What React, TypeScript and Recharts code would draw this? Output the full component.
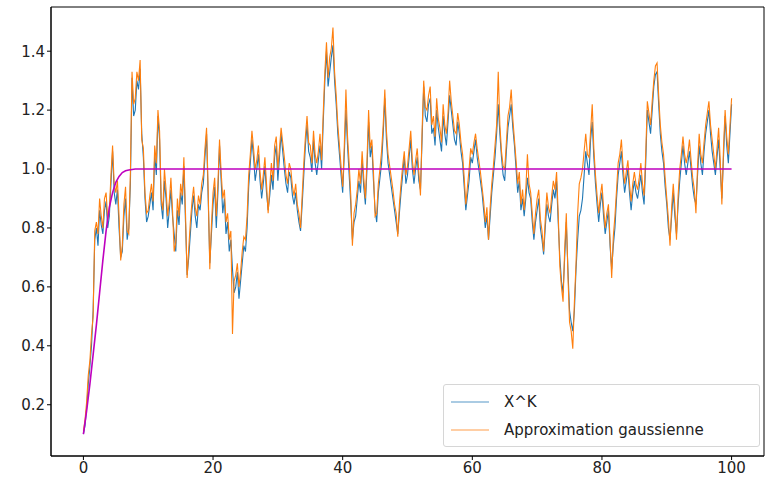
import React from 'react';
import { LineChart, Line, XAxis, YAxis, ReferenceArea } from 'recharts';

// X^K, sampled every 0.25 on [0, 100]
const xkValues = [
  0.10, 0.13, 0.19, 0.27, 0.33, 0.40, 0.52, 0.76, 0.80, 0.74, 0.86, 0.81, 0.78, 0.86, 0.89, 0.80, 0.84, 0.95, 1.06, 0.92,
  0.88, 0.93, 0.80, 0.70, 0.72, 0.84, 0.90, 0.76, 0.80, 0.95, 1.31, 1.18, 1.20, 1.30, 1.27, 1.34, 1.12, 1.04, 0.90, 0.82,
  0.84, 0.88, 0.92, 0.86, 1.05, 0.98, 1.18, 1.10, 0.88, 0.83, 0.96, 0.90, 0.80, 0.86, 0.93, 0.84, 0.78, 0.72, 0.86, 0.81,
  0.92, 0.88, 1.01, 0.82, 0.64, 0.70, 0.78, 0.86, 0.91, 0.84, 0.80, 0.88, 0.86, 0.92, 0.95, 1.04, 1.12, 0.90, 0.68, 0.78,
  0.88, 0.94, 0.80, 0.92, 1.08, 0.96, 0.85, 0.90, 0.78, 0.82, 0.72, 0.76, 0.66, 0.58, 0.60, 0.65, 0.56, 0.62, 0.68, 0.74,
  0.72, 0.80, 0.94, 1.02, 1.10, 1.04, 0.96, 1.00, 1.05, 0.96, 0.90, 0.95, 1.01, 0.92, 0.86, 0.91, 0.98, 0.93, 1.04, 1.08,
  0.96, 1.04, 1.12, 1.06, 1.00, 0.95, 0.92, 0.99, 0.97, 0.91, 0.88, 0.92, 0.86, 0.82, 0.79, 0.88, 0.98, 1.08, 1.15, 1.06,
  1.04, 0.99, 1.10, 1.02, 0.98, 1.03, 1.08, 1.00, 1.16, 1.30, 1.40, 1.28, 1.33, 1.38, 1.42, 1.30, 1.22, 1.12, 1.05, 0.98,
  0.92, 1.05, 1.20, 1.08, 0.98, 0.88, 0.76, 0.82, 0.84, 0.90, 0.96, 0.92, 1.03, 0.94, 0.88, 1.00, 1.16, 1.04, 1.08, 0.96,
  0.86, 0.82, 0.92, 0.97, 1.02, 1.12, 1.24, 1.10, 1.02, 0.98, 0.94, 0.90, 0.86, 0.82, 0.78, 0.85, 0.92, 0.98, 1.04, 0.95,
  0.98, 1.04, 1.10, 1.00, 0.95, 1.00, 1.04, 0.96, 0.93, 1.10, 1.28, 1.18, 1.16, 1.22, 1.24, 1.12, 1.14, 1.08, 1.20, 1.14,
  1.10, 1.06, 1.18, 1.12, 1.08, 1.16, 1.25, 1.20, 1.15, 1.10, 1.08, 1.16, 1.12, 1.06, 1.02, 0.94, 0.86, 0.91, 0.96, 1.04,
  1.02, 1.06, 1.10, 1.04, 1.00, 0.96, 0.92, 0.86, 0.80, 0.84, 0.76, 0.84, 0.92, 0.98, 1.04, 1.12, 1.22, 1.12, 1.04, 0.98,
  0.96, 1.06, 1.14, 1.18, 1.22, 1.14, 1.08, 1.00, 0.92, 0.96, 0.86, 0.90, 0.84, 0.90, 0.97, 0.92, 0.90, 0.82, 0.76, 0.82,
  0.86, 0.90, 0.80, 0.76, 0.71, 0.80, 0.88, 0.84, 0.82, 0.88, 0.93, 0.90, 0.96, 0.82, 0.70, 0.62, 0.58, 0.70, 0.82, 0.66,
  0.52, 0.48, 0.45, 0.52, 0.66, 0.76, 0.84, 0.86, 0.90, 0.98, 1.06, 1.02, 0.98, 1.10, 1.16, 1.04, 0.95, 0.88, 0.82, 0.88,
  0.92, 0.84, 0.78, 0.82, 0.86, 0.74, 0.66, 0.74, 0.80, 0.90, 0.98, 1.02, 1.06, 0.98, 0.92, 0.96, 1.00, 0.92, 0.86, 0.92,
  0.96, 0.92, 0.90, 0.94, 0.98, 0.92, 0.88, 1.02, 1.20, 1.16, 1.12, 1.20, 1.28, 1.32, 1.33, 1.22, 1.12, 1.06, 1.02, 0.94,
  0.88, 0.80, 0.76, 0.84, 0.92, 0.84, 0.78, 0.88, 0.96, 1.02, 1.08, 1.02, 0.98, 1.02, 1.06, 1.00, 0.94, 0.90, 0.88, 0.98,
  1.08, 1.02, 0.98, 1.06, 1.12, 1.16, 1.20, 1.12, 1.06, 1.02, 0.98, 1.04, 1.10, 1.00, 0.90, 1.04, 1.18, 1.08, 1.02, 1.12, 1.22,
];

// Approximation gaussienne, same grid
const gaussValues = [
  0.11, 0.15, 0.21, 0.30, 0.35, 0.44, 0.50, 0.79, 0.82, 0.78, 0.90, 0.84, 0.80, 0.90, 0.92, 0.83, 0.86, 0.98, 1.08, 0.95,
  0.92, 0.96, 0.84, 0.69, 0.74, 0.88, 0.94, 0.79, 0.78, 0.99, 1.33, 1.22, 1.24, 1.33, 1.30, 1.37, 1.10, 1.07, 0.92, 0.85,
  0.86, 0.91, 0.95, 0.89, 1.08, 1.02, 1.20, 1.13, 0.90, 0.86, 1.00, 0.93, 0.84, 0.89, 0.97, 0.86, 0.72, 0.75, 0.90, 0.84,
  0.95, 0.91, 1.04, 0.85, 0.63, 0.73, 0.82, 0.89, 0.94, 0.87, 0.84, 0.91, 0.88, 0.95, 0.98, 1.07, 1.14, 0.93, 0.66, 0.81,
  0.92, 0.97, 0.84, 0.95, 1.10, 0.99, 0.90, 0.93, 0.82, 0.85, 0.76, 0.79, 0.44, 0.62, 0.64, 0.68, 0.60, 0.65, 0.72, 0.77,
  0.76, 0.84, 0.98, 1.05, 1.13, 1.07, 1.00, 1.03, 1.08, 0.99, 0.93, 0.98, 1.04, 0.95, 0.85, 0.94, 1.02, 0.96, 1.08, 1.11,
  1.00, 1.07, 1.14, 1.09, 1.04, 0.98, 0.95, 1.02, 1.00, 0.94, 0.91, 0.95, 0.88, 0.85, 0.80, 0.91, 1.02, 1.11, 1.18, 1.09,
  1.08, 1.02, 1.13, 1.05, 1.02, 1.06, 1.12, 1.03, 1.19, 1.33, 1.43, 1.31, 1.38, 1.41, 1.48, 1.33, 1.25, 1.15, 1.08, 1.01,
  0.94, 1.08, 1.27, 1.11, 1.02, 0.91, 0.74, 0.85, 0.88, 0.93, 1.00, 0.95, 1.06, 0.97, 0.90, 1.03, 1.20, 1.07, 1.10, 0.99,
  0.84, 0.85, 0.95, 1.00, 1.06, 1.15, 1.27, 1.13, 1.05, 1.01, 0.97, 0.93, 0.88, 0.85, 0.77, 0.88, 0.95, 1.01, 1.06, 0.98,
  1.01, 1.07, 1.13, 1.03, 0.98, 1.03, 1.07, 0.99, 0.91, 1.13, 1.30, 1.21, 1.20, 1.25, 1.28, 1.15, 1.18, 1.11, 1.24, 1.17,
  1.14, 1.09, 1.22, 1.15, 1.12, 1.19, 1.30, 1.23, 1.18, 1.13, 1.12, 1.19, 1.15, 1.09, 1.05, 0.97, 0.88, 0.94, 1.00, 1.07,
  1.05, 1.09, 1.12, 1.07, 1.03, 0.99, 0.94, 0.89, 0.82, 0.87, 0.76, 0.87, 0.95, 1.01, 1.08, 1.15, 1.33, 1.15, 1.06, 1.01,
  1.00, 1.09, 1.18, 1.21, 1.27, 1.17, 1.10, 1.03, 0.95, 0.99, 0.88, 0.93, 0.86, 0.93, 1.05, 0.95, 0.92, 0.85, 0.78, 0.85,
  0.90, 0.93, 0.83, 0.79, 0.72, 0.83, 0.92, 0.87, 0.85, 0.91, 0.96, 0.93, 0.99, 0.85, 0.67, 0.60, 0.55, 0.73, 0.85, 0.64,
  0.48, 0.45, 0.39, 0.55, 0.68, 0.85, 0.95, 0.97, 1.00, 1.06, 1.12, 1.05, 1.04, 1.13, 1.22, 1.07, 0.98, 0.91, 0.85, 0.91,
  0.95, 0.87, 0.80, 0.85, 0.88, 0.76, 0.63, 0.77, 0.84, 0.93, 1.02, 1.05, 1.10, 1.01, 0.95, 0.99, 1.03, 0.95, 0.89, 0.95,
  0.99, 0.95, 0.93, 0.97, 1.02, 0.95, 0.91, 1.05, 1.23, 1.19, 1.15, 1.23, 1.30, 1.35, 1.36, 1.25, 1.15, 1.09, 1.05, 0.97,
  0.90, 0.83, 0.74, 0.87, 0.95, 0.87, 0.76, 0.91, 1.00, 1.05, 1.11, 1.05, 1.02, 1.05, 1.10, 1.03, 0.97, 0.93, 0.85, 1.01,
  1.12, 1.05, 1.02, 1.09, 1.15, 1.19, 1.23, 1.15, 1.10, 1.05, 1.00, 1.07, 1.14, 1.03, 0.88, 1.07, 1.20, 1.11, 1.05, 1.15, 1.24,
];

// magenta limit curve
const limitX = [0, 0.5, 1, 1.5, 2, 2.5, 3, 3.5, 4, 4.5, 5, 5.5, 6, 6.5, 7, 8, 9, 100];
const limitY = [0.10, 0.18, 0.27, 0.37, 0.47, 0.58, 0.69, 0.79, 0.87, 0.92, 0.955, 0.975, 0.988, 0.994, 0.997, 1.0, 1.0, 1.0];

const xTicks = [0, 20, 40, 60, 80, 100];
const yTicks = [0.2, 0.4, 0.6, 0.8, 1.0, 1.2, 1.4];
const X_DOMAIN: [number, number] = [-5, 105];
const Y_DOMAIN: [number, number] = [0.026, 1.55];

const STEP = 0.25;
const xkData = xkValues.map((v, i) => ({ x: i * STEP, y: v }));
const gaussData = gaussValues.map((v, i) => ({ x: i * STEP, y: v }));
const limitData = limitX.map((x, i) => ({ x, y: limitY[i] }));

const FONT = '"DejaVu Sans", sans-serif';
const tickStyle = { fill: '#222', fontSize: 15, fontFamily: FONT };
const axisLine = { stroke: '#000', strokeWidth: 1 };

function LegendBox() {
  const row = (color: string, label: string, top: number) => (
    <div style={{ position: 'absolute', left: 0, top, height: 18, display: 'flex', alignItems: 'center' }}>
      <svg width={60} height={18} style={{ display: 'block' }}>
        <line x1={7} x2={45} y1={9} y2={9} stroke={color} strokeWidth={1.2} strokeOpacity={0.75} />
      </svg>
      <span style={{ fontFamily: FONT, fontSize: 15, color: '#222', lineHeight: '18px' }}>{label}</span>
    </div>
  );
  return (
    <div
      style={{
        position: 'absolute',
        left: 443,
        top: 384,
        width: 317,
        height: 63,
        background: 'rgba(255,255,255,0.8)',
        border: '1px solid #d6d6d6',
        borderRadius: 3,
        boxSizing: 'border-box',
      }}
    >
      {row('#1f77b4', 'X^K', 8)}
      {row('#ff7f0e', 'Approximation gaussienne', 36)}
    </div>
  );
}

export default function App() {
  return (
    <div style={{ position: 'absolute', left: 0, top: 0, width: 766, height: 485, background: '#fff' }}>
      <LineChart width={766} height={485} margin={{ top: 7, right: 2, bottom: 0, left: 0 }}>
        <XAxis
          dataKey="x"
          type="number"
          domain={X_DOMAIN}
          ticks={xTicks}
          allowDuplicatedCategory={false}
          height={29}
          tickSize={4}
          tickLine={axisLine}
          axisLine={axisLine}
          tick={tickStyle}
        />
        <YAxis
          type="number"
          domain={Y_DOMAIN}
          ticks={yTicks}
          width={51}
          tickSize={4}
          tickLine={axisLine}
          axisLine={axisLine}
          tick={tickStyle}
          tickFormatter={(v: number) => v.toFixed(1)}
        />
        <Line data={xkData} dataKey="y" type="linear" stroke="#1f77b4" strokeWidth={1.1} dot={false} isAnimationActive={false} />
        <Line data={gaussData} dataKey="y" type="linear" stroke="#ff7f0e" strokeWidth={1.1} dot={false} isAnimationActive={false} />
        <Line data={limitData} dataKey="y" type="linear" stroke="#bf00bf" strokeWidth={1.6} dot={false} isAnimationActive={false} />
        <ReferenceArea
          x1={X_DOMAIN[0]}
          x2={X_DOMAIN[1]}
          y1={Y_DOMAIN[0]}
          y2={Y_DOMAIN[1]}
          fill="none"
          stroke="#000"
          strokeWidth={1}
          ifOverflow="visible"
        />
      </LineChart>
      <LegendBox />
    </div>
  );
}
